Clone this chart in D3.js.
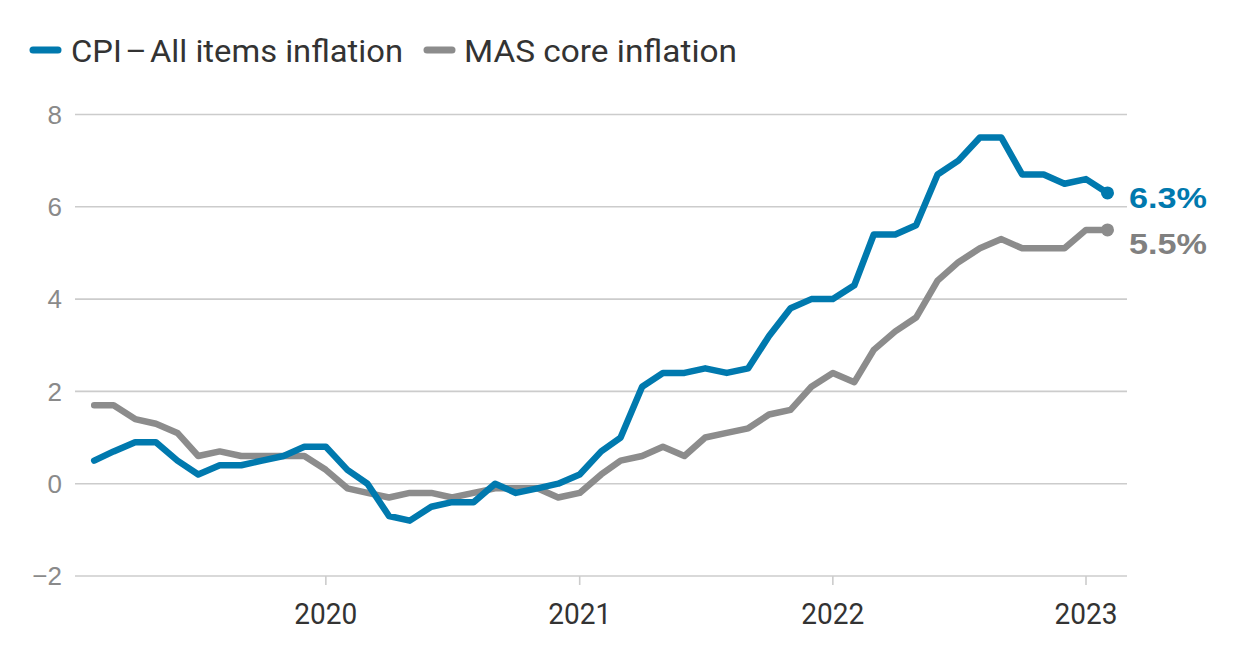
<!DOCTYPE html>
<html>
<head>
<meta charset="utf-8">
<script src="https://cdn.jsdelivr.net/npm/d3@7"></script>
<style>
  html, body { margin: 0; padding: 0; background: #fff; }
  svg { display: block; }
</style>
</head>
<body>
<svg id="chart" width="1260" height="660"></svg>
<script>
const months = [
  "2019-02","2019-03","2019-04","2019-05","2019-06","2019-07","2019-08","2019-09","2019-10","2019-11","2019-12",
  "2020-01","2020-02","2020-03","2020-04","2020-05","2020-06","2020-07","2020-08","2020-09","2020-10","2020-11","2020-12",
  "2021-01","2021-02","2021-03","2021-04","2021-05","2021-06","2021-07","2021-08","2021-09","2021-10","2021-11","2021-12",
  "2022-01","2022-02","2022-03","2022-04","2022-05","2022-06","2022-07","2022-08","2022-09","2022-10","2022-11","2022-12",
  "2023-01","2023-02"
];
const cpiAllItems = [
  0.5,0.7,0.9,0.9,0.5,0.2,0.4,0.4,0.5,0.6,0.8,
  0.8,0.3,0.0,-0.7,-0.8,-0.5,-0.4,-0.4,0.0,-0.2,-0.1,0.0,
  0.2,0.7,1.0,2.1,2.4,2.4,2.5,2.4,2.5,3.2,3.8,4.0,
  4.0,4.3,5.4,5.4,5.6,6.7,7.0,7.5,7.5,6.7,6.7,6.5,
  6.6,6.3
];
const masCore = [
  1.7,1.7,1.4,1.3,1.1,0.6,0.7,0.6,0.6,0.6,0.6,
  0.3,-0.1,-0.2,-0.3,-0.2,-0.2,-0.3,-0.2,-0.1,-0.1,-0.1,-0.3,
  -0.2,0.2,0.5,0.6,0.8,0.6,1.0,1.1,1.2,1.5,1.6,2.1,
  2.4,2.2,2.9,3.3,3.6,4.4,4.8,5.1,5.3,5.1,5.1,5.1,
  5.5,5.5
];
const seriesNames = ["CPI\u200A\u2013\u200AAll items inflation", "MAS core inflation"];
const endLabels = ["6.3%", "5.5%"];
const yTicks = [-2, 0, 2, 4, 6, 8];
const xTickYears = ["2020", "2021", "2022", "2023"];

const BLUE = "#0079ae";
const GREY = "#8c8c8c";

const svg = d3.select("#chart");
const parse = d3.utcParse("%Y-%m");
const dates = months.map(parse);

const x = d3.scaleUtc()
  .domain([parse("2019-01"), parse("2023-01")])
  .range([72.7, 1086]);
const y = d3.scaleLinear().domain([-2, 8]).range([576, 114.5]);

const gridLeft = 75, gridRight = 1127;

// gridlines
svg.append("g").selectAll("line").data(yTicks).join("line")
  .attr("x1", gridLeft).attr("x2", gridRight)
  .attr("y1", d => y(d)).attr("y2", d => y(d))
  .attr("stroke", "#cccccc").attr("stroke-width", 1.6);

// y labels
svg.append("g").selectAll("text").data(yTicks).join("text")
  .attr("x", 62).attr("y", d => y(d))
  .attr("dy", "0.35em")
  .attr("text-anchor", "end")
  .attr("font-family", "Liberation Sans, Arial, sans-serif")
  .attr("font-size", 26)
  .attr("fill", "#8a8a8a")
  .text(d => d < 0 ? "\u2212" + Math.abs(d) : d);

// x axis ticks
const xTickDates = xTickYears.map(s => d3.utcParse("%Y")(s));
const xg = svg.append("g");
xg.selectAll("line").data(xTickDates).join("line")
  .attr("x1", d => x(d)).attr("x2", d => x(d))
  .attr("y1", y(-2)).attr("y2", y(-2) + 9)
  .attr("stroke", "#cccccc").attr("stroke-width", 1.6);
xg.selectAll("text").data(xTickDates).join("text")
  .attr("x", d => x(d)).attr("y", 624)
  .attr("text-anchor", "middle")
  .attr("font-family", "Roboto, sans-serif")
  .attr("font-size", 29)
  .attr("fill", "#333333")
  .attr("textLength", 63).attr("lengthAdjust", "spacingAndGlyphs")
  .text((d, i) => xTickYears[i]);

// lines
const line = d3.line()
  .x(d => x(d.date)).y(d => y(d.v))
  .curve(d3.curveLinear);

const coreData = dates.map((d, i) => ({date: d, v: masCore[i]}));
const cpiData = dates.map((d, i) => ({date: d, v: cpiAllItems[i]}));

[[coreData, GREY], [cpiData, BLUE]].forEach(([data, col]) => {
  svg.append("path").datum(data)
    .attr("d", line)
    .attr("fill", "none")
    .attr("stroke", col)
    .attr("stroke-width", 6.5)
    .attr("stroke-linejoin", "round")
    .attr("stroke-linecap", "round");
  const last = data[data.length - 1];
  svg.append("circle")
    .attr("cx", x(last.date)).attr("cy", y(last.v))
    .attr("r", 6.5).attr("fill", col);
});

// end labels
svg.append("text")
  .attr("x", 1129).attr("y", 208)
  .attr("font-family", "Liberation Sans, Arial, sans-serif")
  .attr("font-weight", "bold").attr("font-size", 30)
  .attr("fill", BLUE)
  .attr("textLength", 78).attr("lengthAdjust", "spacingAndGlyphs")
  .text(endLabels[0]);
svg.append("text")
  .attr("x", 1129).attr("y", 253.5)
  .attr("font-family", "Liberation Sans, Arial, sans-serif")
  .attr("font-weight", "bold").attr("font-size", 30)
  .attr("fill", "#808080")
  .attr("textLength", 78).attr("lengthAdjust", "spacingAndGlyphs")
  .text(endLabels[1]);

// legend
const legend = [
  {name: seriesNames[0], col: BLUE, x0: 33, tx: 71, w: 332},
  {name: seriesNames[1], col: GREY, x0: 427, tx: 464, w: 273}
];
legend.forEach(l => {
  svg.append("line")
    .attr("x1", l.x0).attr("x2", l.x0 + 25)
    .attr("y1", 50).attr("y2", 50)
    .attr("stroke", l.col).attr("stroke-width", 7)
    .attr("stroke-linecap", "round");
  svg.append("text")
    .attr("x", l.tx).attr("y", 62)
    .attr("font-family", "Roboto, sans-serif")
    .attr("font-size", 31)
    .attr("fill", "#333333")
    .attr("textLength", l.w).attr("lengthAdjust", "spacingAndGlyphs")
    .text(l.name);
});
</script>
</body>
</html>
